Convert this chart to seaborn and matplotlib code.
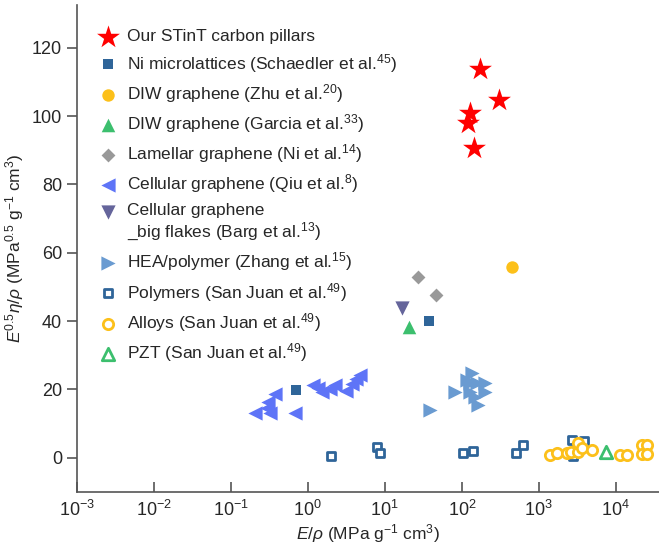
import numpy as np
import pandas as pd
import matplotlib
matplotlib.use('Agg')
import matplotlib.pyplot as plt
import seaborn as sns

# values (E/rho, E^0.5 eta/rho)
stint_x = [173, 308, 129, 122, 146]
stint_y = [113.7, 104.7, 101.0, 97.9, 90.6]

ni_x = [37.9, 0.705]
ni_y = [39.9, 19.9]

zhu_x = [454]
zhu_y = [55.9]

garcia_x = [20.7]
garcia_y = [38.2]

lamellar_x = [26.8, 45.9]
lamellar_y = [52.8, 47.7]

qiu_x = [0.207, 0.296, 0.305, 0.376, 0.324, 0.684, 1.17, 1.36, 1.53, 1.95, 2.26, 3.14, 3.76, 4.24, 4.78]
qiu_y = [13.2, 14.6, 16.4, 18.7, 13.2, 13.2, 21.3, 20.5, 19.3, 20.2, 21.3, 19.6, 21.6, 23.1, 24.3]

barg_x = [16.6]
barg_y = [43.9]

hea_x = [38.7, 81.8, 135, 128, 128, 157, 201, 201, 164, 149, 116]
hea_y = [14.0, 19.4, 24.8, 21.8, 19.4, 21.8, 21.8, 19.4, 15.5, 17.9, 22.8]

poly_x = [1.99, 7.87, 8.7, 105, 141, 507, 620, 2685, 3800, 2816, 3000]
poly_y = [0.4, 3.3, 1.4, 1.4, 2.1, 1.4, 3.8, 5.3, 4.8, 0.4, 2.0]

alloy_x = [1409, 1715, 2312, 2640, 3266, 3266, 3614, 4875, 11380, 13900, 22000, 22000, 25500, 25500]
alloy_y = [0.9, 1.4, 1.4, 1.8, 1.8, 4.3, 2.8, 2.3, 0.9, 0.9, 3.8, 1.2, 3.8, 1.2]

pzt_x = [7480]
pzt_y = [1.8]

sns.set_style('ticks')
plt.rcParams['font.family'] = ['Liberation Sans', 'DejaVu Sans']
plt.rcParams['mathtext.fontset'] = 'custom'
plt.rcParams['mathtext.rm'] = 'Liberation Sans'
plt.rcParams['mathtext.it'] = 'Liberation Sans:italic'
plt.rcParams['mathtext.bf'] = 'Liberation Sans:bold'

fig = plt.figure(figsize=(6.59, 5.47), dpi=100)
ax = fig.add_axes([0.1164, 0.1005, 0.8836, 0.8905])

# filled markers
filled = [
    (stint_x, stint_y, '*', '#ff0000', 300, 'Our STinT carbon pillars'),
    (ni_x, ni_y, 's', '#2f6599', 55, 'Ni microlattices (Schaedler et al.$^{45}$)'),
    (zhu_x, zhu_y, 'o', '#fcc01a', 80, 'DIW graphene (Zhu et al.$^{20}$)'),
    (garcia_x, garcia_y, '^', '#3cbf6e', 95, 'DIW graphene (Garcia et al.$^{33}$)'),
    (lamellar_x, lamellar_y, 'D', '#999999', 50, 'Lamellar graphene (Ni et al.$^{14}$)'),
    (qiu_x, qiu_y, '<', '#5e74f7', 105, 'Cellular graphene (Qiu et al.$^{8}$)'),
    (barg_x, barg_y, 'v', '#65659b', 105, 'Cellular graphene\n_big flakes (Barg et al.$^{13}$)'),
    (hea_x, hea_y, '>', '#6a9bd1', 105, 'HEA/polymer (Zhang et al.$^{15}$)'),
]
for xs, ys, m, c, s, lab in filled:
    sns.scatterplot(x=xs, y=ys, marker=m, color=c, s=s, linewidth=0, label=lab, ax=ax, zorder=3)

# open markers
opened = [
    (poly_x, poly_y, 's', '#2f6599', 40, 'Polymers (San Juan et al.$^{49}$)'),
    (alloy_x, alloy_y, 'o', '#fcc01a', 55, 'Alloys (San Juan et al.$^{49}$)'),
    (pzt_x, pzt_y, '^', '#3cbf6e', 80, 'PZT (San Juan et al.$^{49}$)'),
]
for xs, ys, m, c, s, lab in opened:
    sns.scatterplot(x=xs, y=ys, marker=m, s=s, facecolor='white', edgecolor=c,
                    linewidth=2, label=lab, ax=ax, zorder=3)

ax.set_xscale('log')
ax.set_xlim(1e-3, 10 ** 4.56)
ax.set_ylim(-10, 132.5)
ax.set_xticks([1e-3, 1e-2, 1e-1, 1, 1e1, 1e2, 1e3, 1e4])
ax.xaxis.set_minor_locator(matplotlib.ticker.NullLocator())
ax.set_yticks([0, 20, 40, 60, 80, 100, 120])

for side in ['top', 'right']:
    ax.spines[side].set_visible(False)
for side in ['left', 'bottom']:
    ax.spines[side].set_color('#555555')
    ax.spines[side].set_linewidth(1.2)
ax.tick_params(axis='x', direction='in', length=7, width=1.2, color='#555555', labelsize=13, pad=6)
ax.tick_params(axis='y', direction='out', length=7, width=1.2, color='#555555', labelsize=13)

ax.set_xlabel(r'$E/\rho$ (MPa g$^{-1}$ cm$^{3}$)', fontsize=12.5, labelpad=1)
ax.set_ylabel(r'$E^{0.5}\eta/\rho$ (MPa$^{0.5}$ g$^{-1}$ cm$^{3}$)', fontsize=12.5)

leg = ax.legend(loc='upper left', bbox_to_anchor=(0.014, 0.975), frameon=False, fontsize=12.5,
                handlelength=1.3, handletextpad=0.4, labelspacing=0.42, borderaxespad=0.3)
# keep the marker of the two-line entry next to its first line
h = leg.legend_handles[6]
h.set_offsets(h.get_offsets() + np.array([0, 9]))

fig.savefig('out.png', dpi=100)
